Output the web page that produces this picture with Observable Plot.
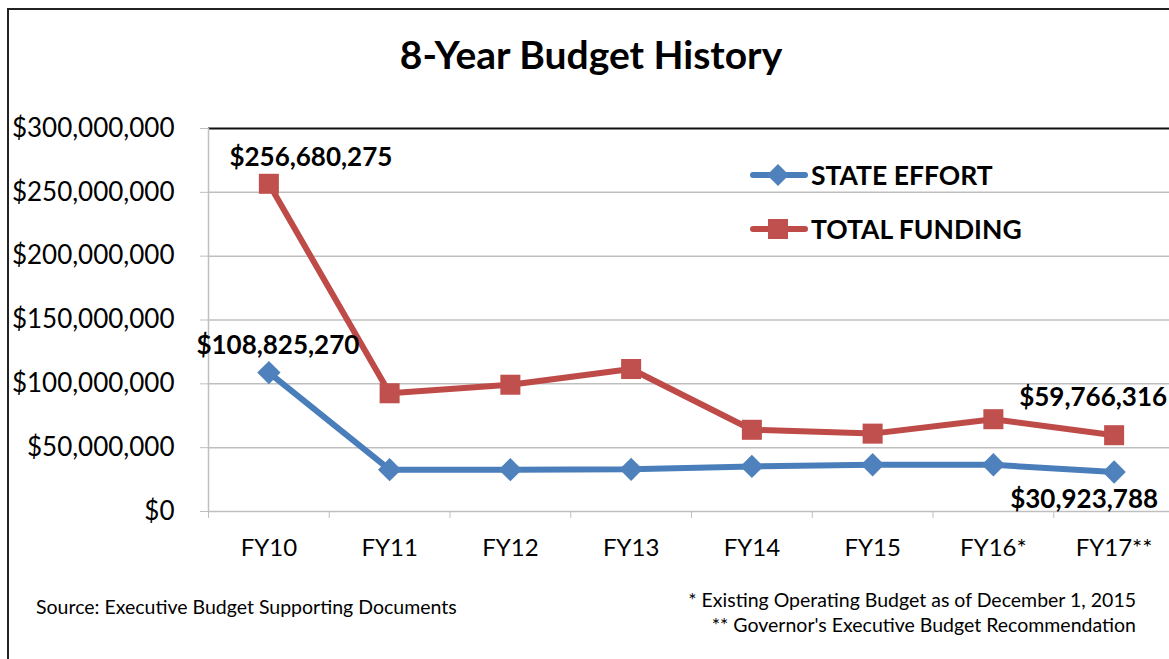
<!DOCTYPE html>
<html>
<head>
<meta charset="utf-8">
<script src="https://cdn.jsdelivr.net/npm/d3@7"></script>
<script src="https://cdn.jsdelivr.net/npm/@observablehq/plot@0.6"></script>
<style>
  html, body { margin: 0; padding: 0; width: 1169px; height: 659px; overflow: hidden; background: #fff; font-family: Lato, "Open Sans", sans-serif; }
  #frame { position: absolute; left: 7px; top: 8px; width: 1200px; height: 700px; border-left: 2px solid #222; border-top: 2px solid #222; }
  #title { position: absolute; left: 0; top: 31px; width: 1182px; text-align: center; font-weight: bold; font-size: 39px; color: #000; }
  #chart { position: absolute; left: 0; top: 100px; width: 1200px; }
  .leg { position: absolute; left: 750px; height: 30px; display: flex; align-items: center; font-weight: bold; font-size: 26.5px; color: #000; }
  .leg svg { margin-right: 3px; }
  #source { position: absolute; left: 36px; top: 594px; font-size: 19.5px; line-height: 25px; color: #000; }
  #notes { position: absolute; right: 33px; top: 587px; font-size: 19.5px; color: #000; text-align: right; line-height: 25px; }
</style>
</head>
<body>
<div id="frame"></div>
<div id="title">8-Year Budget History</div>
<div id="chart"></div>
<div class="leg" style="top:160px"><svg width="58" height="30"><line x1="3" y1="15" x2="55" y2="15" stroke="#4A7EBB" stroke-width="6" stroke-linecap="round"/><path d="M28 4 L39 15 L28 26 L17 15 Z" fill="#4F81BD"/></svg>STATE EFFORT</div>
<div class="leg" style="top:214px"><svg width="58" height="30"><line x1="3" y1="15" x2="55" y2="15" stroke="#BE4B48" stroke-width="6" stroke-linecap="round"/><rect x="18" y="5" width="20" height="20" fill="#C0504D"/></svg>TOTAL FUNDING</div>
<div id="source">Source: Executive Budget Supporting Documents</div>
<div id="notes">* Existing Operating Budget as of December 1, 2015<br>** Governor's Executive Budget Recommendation</div>
<script>
const categories = ["FY10", "FY11", "FY12", "FY13", "FY14", "FY15", "FY16*", "FY17**"];
const stateEffort = [108825270, 32800000, 32800000, 33000000, 35300000, 36600000, 36600000, 30923788];
const totalFunding = [256680275, 92600000, 99300000, 111600000, 64000000, 61000000, 72300000, 59766316];
const yTicks = [0, 50000000, 100000000, 150000000, 200000000, 250000000, 300000000];

const idx = categories.map((c, i) => i);
const stateRows = idx.map(i => ({i, v: stateEffort[i]}));
const totalRows = idx.map(i => ({i, v: totalFunding[i]}));
const fmt = d => "$" + d3.format(",")(d);

const labels = [
  {i: 0, v: totalFunding[0], dx: 42, dy: -26},
  {i: 0, v: stateEffort[0], dx: 9, dy: -27},
  {i: 7, v: totalFunding[7], dx: -21, dy: -38},
  {i: 7, v: stateEffort[7], dx: -30, dy: 28}
];

const blue = "#4A7EBB", blueM = "#4F81BD", red = "#BE4B48", redM = "#C0504D";
const grid = "#BFBFBF";

const chart = Plot.plot({
  width: 1200,
  height: 480,
  marginLeft: 208,
  marginRight: 26,
  marginTop: 28,
  marginBottom: 69,
  style: {fontFamily: "Lato, 'Open Sans', sans-serif", fontSize: "24px", color: "#000", background: "transparent", overflow: "visible", maxWidth: "none"},
  x: {type: "linear", domain: [-0.5, categories.length - 0.5], axis: null, label: null},
  y: {domain: [0, 300000000], axis: null, label: null},
  marks: [
    Plot.gridY(yTicks.slice(1, -1), {stroke: grid, strokeOpacity: 1, strokeWidth: 1.5}),
    Plot.ruleY([300000000], {stroke: "#111", strokeWidth: 2}),
    Plot.ruleY([0], {stroke: grid, strokeWidth: 1.5}),
    Plot.ruleX([-0.5], {stroke: grid, strokeWidth: 1.5}),
    Plot.axisY(yTicks, {anchor: "left", label: null, tickSize: 8, tickPadding: 26, stroke: grid, tickFormat: fmt, fontSize: 26, fill: "#000"}),
    Plot.axisX(d3.range(-0.5, categories.length, 1), {anchor: "bottom", label: null, tickSize: 7, stroke: grid, tickFormat: () => ""}),
    Plot.axisX(idx, {anchor: "bottom", label: null, tickSize: 0, tickPadding: 27, tickFormat: i => categories[i], fontSize: 24, fill: "#000"}),
    Plot.line(totalRows, {x: "i", y: "v", stroke: red, strokeWidth: 6, strokeLinejoin: "round", strokeLinecap: "round"}),
    Plot.line(stateRows, {x: "i", y: "v", stroke: blue, strokeWidth: 6, strokeLinejoin: "round", strokeLinecap: "round"}),
    Plot.dot(totalRows, {x: "i", y: "v", symbol: "square", r: 11.3, fill: redM, stroke: null}),
    Plot.dot(stateRows, {x: "i", y: "v", symbol: "diamond2", r: 10.5, fill: blueM, stroke: null}),
    ...labels.map(l => Plot.text([l], {x: "i", y: "v", text: d => fmt(d.v), dx: l.dx, dy: l.dy, fontWeight: "bold", fontSize: 26, fill: "#000"}))
  ]
});
document.getElementById("chart").appendChild(chart);
</script>
</body>
</html>
